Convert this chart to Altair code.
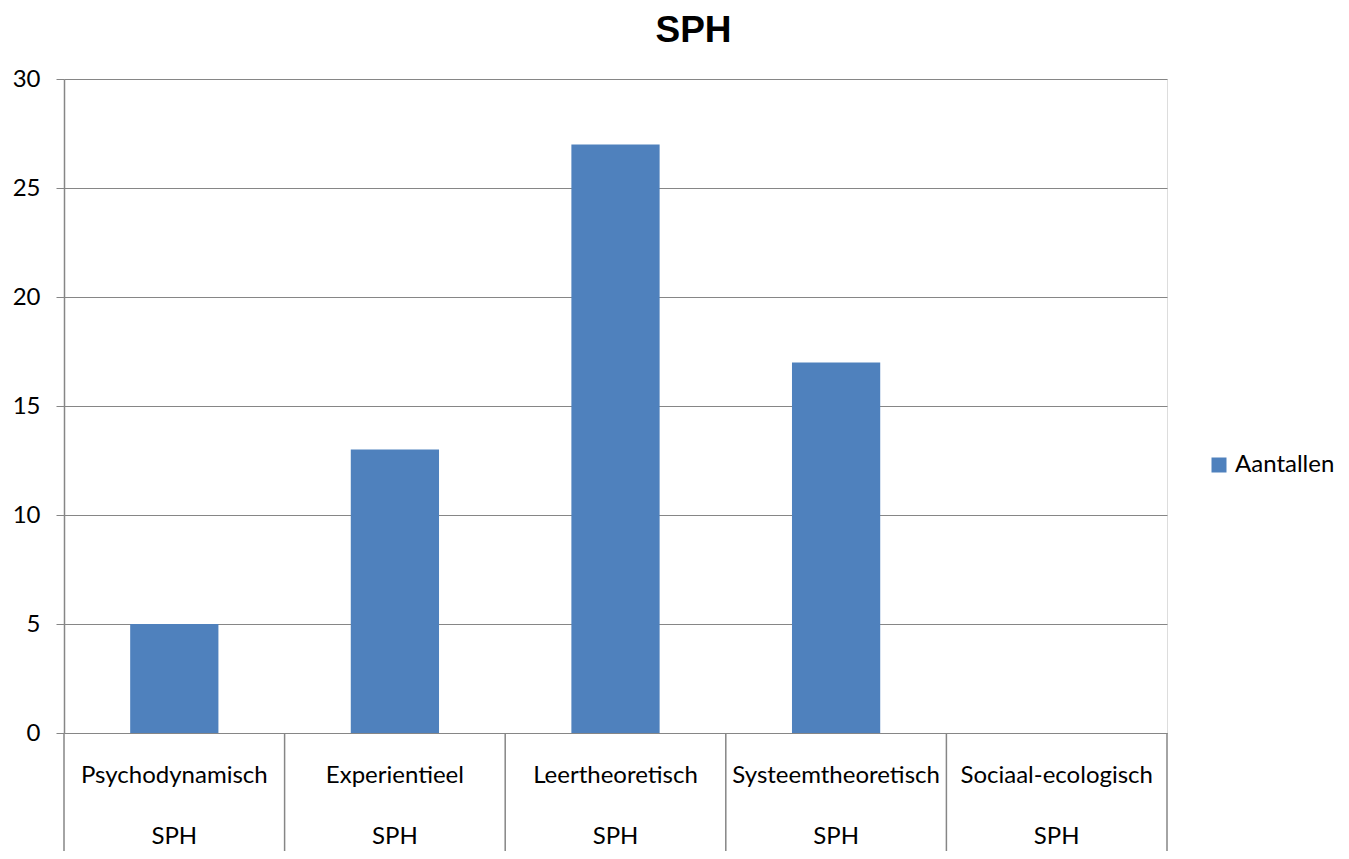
import altair as alt
import pandas as pd

categories = ["Psychodynamisch", "Experientieel", "Leertheoretisch", "Systeemtheoretisch", "Sociaal-ecologisch"]
values = [5, 13, 27, 17, 0]
group_labels = ["SPH", "SPH", "SPH", "SPH", "SPH"]
series_name = "Aantallen"
title_text = "SPH"
y_ticks = [0, 5, 10, 15, 20, 25, 30]

df = pd.DataFrame({"cat": categories, "val": values, "grp": group_labels, "series": [series_name] * 5})
last_df = df.tail(1)

W, H = 1103, 654
BOTTOM = 118
FONT = "Lato"
FS = 24
GRAY = "#868686"
BLUE = "#4F81BD"

xs = alt.Scale(domain=categories, paddingInner=0, paddingOuter=0)

bars = alt.Chart(df).mark_bar(width=alt.RelativeBandSize(0.4), color=BLUE).encode(
    x=alt.X("cat:N", scale=xs, sort=categories, axis=None),
    y=alt.Y("val:Q", scale=alt.Scale(domain=[0, 30], nice=False),
            axis=alt.Axis(values=y_ticks, title=None, grid=True, gridColor=GRAY, gridWidth=1,
                          domainColor=GRAY, domainWidth=1.5, tickColor=GRAY, tickSize=8, tickWidth=1,
                          labelFont=FONT, labelFontSize=FS, labelColor="#000000", labelPadding=16)),
    color=alt.Color("series:N", scale=alt.Scale(range=[BLUE]),
                    legend=alt.Legend(title=None, orient="none", legendX=1143, legendY=374,
                                      symbolType="square", symbolSize=225, symbolStrokeWidth=0,
                                      labelFont=FONT, labelFontSize=FS, labelColor="#000000",
                                      labelOffset=4)),
)

dividers = alt.Chart(df).mark_rule(color=GRAY, strokeWidth=1.5).encode(
    x=alt.X("cat:N", scale=xs, sort=categories, bandPosition=0),
    y=alt.value(H), y2=alt.value(H + BOTTOM),
)
divider_end = alt.Chart(last_df).mark_rule(color=GRAY, strokeWidth=1.5).encode(
    x=alt.X("cat:N", scale=xs, sort=categories, bandPosition=1),
    y=alt.value(H), y2=alt.value(H + BOTTOM),
)

cat_text = alt.Chart(df).mark_text(font=FONT, fontSize=FS, color="#000000", baseline="alphabetic").encode(
    x=alt.X("cat:N", scale=xs, sort=categories),
    y=alt.value(H + 50),
    text="cat:N",
)
grp_text = alt.Chart(df).mark_text(font=FONT, fontSize=FS, color="#000000", baseline="alphabetic").encode(
    x=alt.X("cat:N", scale=xs, sort=categories),
    y=alt.value(H + 111),
    text="grp:N",
)

chart = alt.layer(bars, dividers, divider_end, cat_text, grp_text).properties(
    width=W, height=H,
    title=alt.TitleParams(title_text, font="Liberation Sans", fontSize=37, fontWeight="bold",
                          color="#000000", anchor="middle", dx=78, offset=17),
    autosize=alt.AutoSizeParams(type="none"),
    padding={"left": 56, "top": 71, "right": 174, "bottom": BOTTOM},
).configure_view(stroke=None).configure(background="#ffffff")

chart.save("out.html", embed_options={"renderer": "svg", "actions": False})
